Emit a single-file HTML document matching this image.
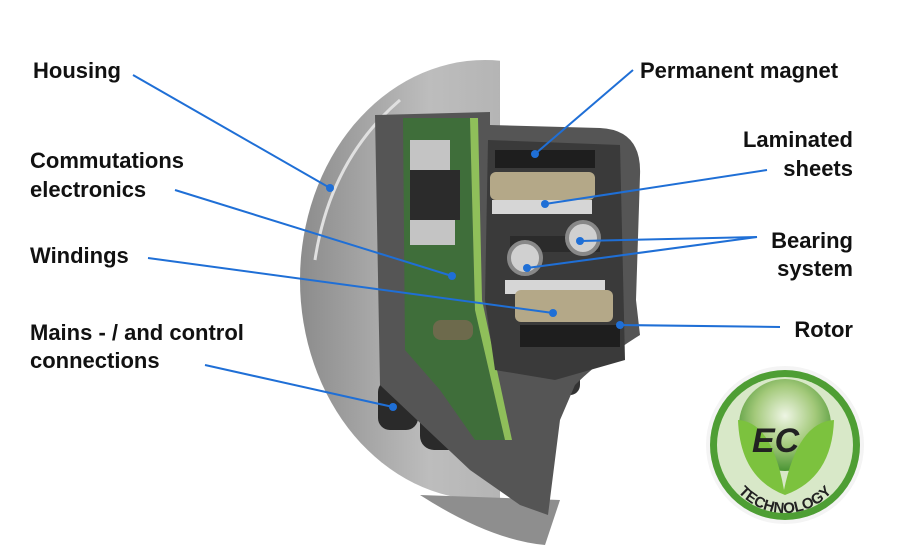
<!DOCTYPE html>
<html><head><style>
body{margin:0;background:#fff;}
svg{display:block;}
text{font-family:"Liberation Sans",Arial,sans-serif;font-weight:bold;font-size:22px;fill:#111;}
</style></head><body>
<svg width="900" height="556" viewBox="0 0 900 556" xmlns="http://www.w3.org/2000/svg">
<defs>
<linearGradient id="hous" x1="0" y1="0" x2="1" y2="0">
<stop offset="0" stop-color="#8c8c8c"/><stop offset="0.35" stop-color="#bdbdbd"/><stop offset="1" stop-color="#a0a0a0"/>
</linearGradient>
<radialGradient id="logo" cx="0.5" cy="0.4" r="0.6">
<stop offset="0" stop-color="#eef5e4"/><stop offset="0.55" stop-color="#a3c97a"/><stop offset="1" stop-color="#4a9434"/>
</radialGradient>
<clipPath id="left"><rect x="0" y="0" width="500" height="556"/></clipPath>
<path id="arc" d="M722,450 A63,63 0 0 0 848,450"/>
</defs>
<!-- housing disc -->
<ellipse cx="485" cy="280" rx="185" ry="220" fill="url(#hous)" clip-path="url(#left)"/>
<path d="M400,100 Q330,160 315,260" stroke="#e0e0e0" stroke-width="3" fill="none"/>
<path d="M420,495 L560,500 L545,545 Q490,540 420,495Z" fill="#8e8e8e"/>
<!-- bottom connectors -->
<rect x="378" y="380" width="40" height="50" rx="12" fill="#2a2a2a"/>
<rect x="420" y="400" width="45" height="50" rx="14" fill="#2a2a2a"/>
<rect x="545" y="355" width="35" height="40" rx="10" fill="#333"/>
<!-- cut section body -->
<path d="M375,115 L490,112 L490,125 L600,128 Q642,130 640,175 L636,300 L640,335 Q600,360 575,385 L560,420 L548,515 L520,505 L470,470 L380,385 Z" fill="#555"/>
<!-- PCB -->
<path d="M403,118 L470,118 L475,310 L505,440 L475,440 L440,390 L405,350 Z" fill="#3f6e3a"/>
<path d="M470,118 L478,118 L482,300 L512,440 L505,440 L475,310 Z" fill="#8fbf5a"/>
<rect x="410" y="140" width="40" height="30" fill="#c4c4c4"/>
<rect x="410" y="170" width="50" height="50" fill="#2b2b2b"/>
<rect x="410" y="220" width="45" height="25" fill="#c4c4c4"/>
<rect x="433" y="320" width="40" height="20" rx="8" fill="#6d6a4c"/>
<!-- right motor interior -->
<path d="M488,140 L620,145 L625,360 L555,380 L495,370 L485,300 Z" fill="#3a3a3a"/>
<rect x="495" y="150" width="100" height="18" fill="#1e1e1e"/>
<rect x="490" y="172" width="105" height="28" rx="6" fill="#b4a888"/>
<rect x="492" y="200" width="100" height="14" fill="#d6d6d6"/>
<rect x="510" y="236" width="90" height="16" fill="#2b2b2b"/>
<circle cx="525" cy="258" r="16" fill="#d0d0d0" stroke="#888" stroke-width="4"/>
<circle cx="583" cy="238" r="16" fill="#d0d0d0" stroke="#888" stroke-width="4"/>
<rect x="505" y="280" width="100" height="14" fill="#d6d6d6"/>
<rect x="515" y="290" width="98" height="32" rx="6" fill="#b4a888"/>
<rect x="520" y="325" width="100" height="22" fill="#1e1e1e"/>
<!-- logo -->
<circle cx="785" cy="445" r="79" fill="#f4f4f4"/>
<circle cx="785" cy="445" r="75" fill="#4e9e34"/>
<circle cx="785" cy="445" r="68" fill="#d8e8c8"/>
<circle cx="785" cy="425" r="46" fill="url(#logo)"/>
<path d="M738,420 Q772,422 784,490 Q798,422 834,420 Q832,478 785,495 Q740,478 738,420Z" fill="#7cc23e"/>
<text x="752" y="452" style="font-size:34px;font-style:italic;fill:#222;">EC</text>
<text style="font-size:15px;fill:#222;" text-anchor="middle"><textPath href="#arc" startOffset="50%">TECHNOLOGY</textPath></text>
<!-- labels -->
<text x="33" y="78">Housing</text>
<text x="30" y="168">Commutations</text>
<text x="30" y="197">electronics</text>
<text x="30" y="263">Windings</text>
<text x="30" y="340">Mains - / and control</text>
<text x="30" y="368">connections</text>
<text x="640" y="78">Permanent magnet</text>
<text x="853" y="147" text-anchor="end">Laminated</text>
<text x="853" y="176" text-anchor="end">sheets</text>
<text x="853" y="248" text-anchor="end">Bearing</text>
<text x="853" y="276" text-anchor="end">system</text>
<text x="853" y="337" text-anchor="end">Rotor</text>
<!-- leader lines -->
<g stroke="#1f6fd6" stroke-width="2" fill="none">
<line x1="133" y1="75" x2="330" y2="188"/>
<line x1="175" y1="190" x2="452" y2="276"/>
<line x1="148" y1="258" x2="553" y2="313"/>
<line x1="205" y1="365" x2="393" y2="407"/>
<line x1="633" y1="70" x2="535" y2="154"/>
<line x1="767" y1="170" x2="545" y2="204"/>
<line x1="757" y1="237" x2="580" y2="241"/>
<line x1="757" y1="237" x2="527" y2="268"/>
<line x1="780" y1="327" x2="620" y2="325"/>
</g>
<g fill="#1f6fd6">
<circle cx="330" cy="188" r="4"/><circle cx="452" cy="276" r="4"/><circle cx="553" cy="313" r="4"/>
<circle cx="393" cy="407" r="4"/><circle cx="535" cy="154" r="4"/><circle cx="545" cy="204" r="4"/>
<circle cx="580" cy="241" r="4"/><circle cx="527" cy="268" r="4"/><circle cx="620" cy="325" r="4"/>
</g>
</svg>
</body></html>
